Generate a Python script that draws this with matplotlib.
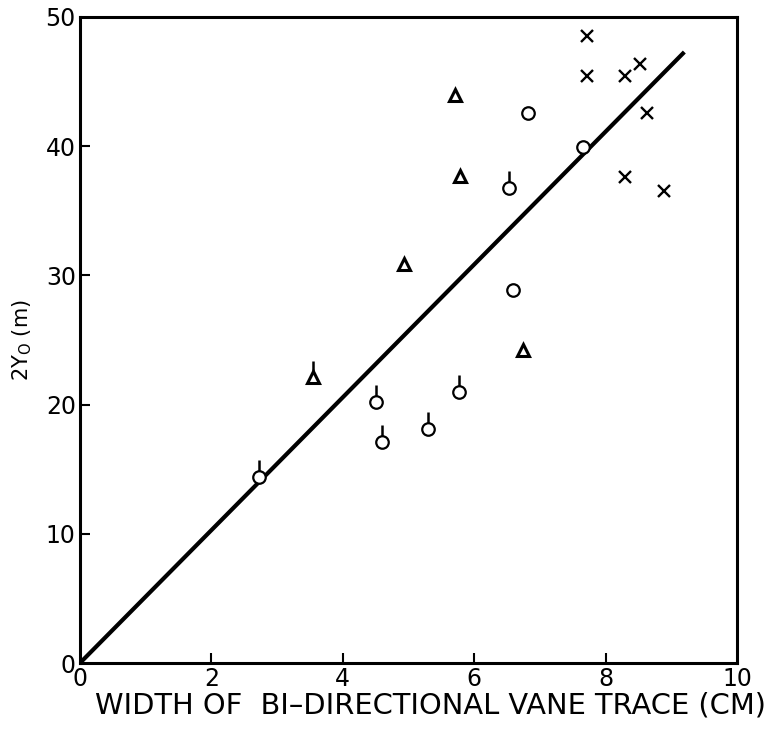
import numpy as np
import matplotlib.pyplot as plt
from matplotlib.path import Path

# data: width of vane trace (cm) vs 2Y0 (m)
circ_x = [6.82, 7.66, 6.59]
circ_y = [42.6, 39.9, 28.9]
circ_flag_x = [2.72, 4.51, 4.60, 5.30, 5.77, 6.53]
circ_flag_y = [14.4, 20.2, 17.1, 18.1, 21.0, 36.8]
tri_x = [4.93, 5.78, 5.71, 6.74]
tri_y = [30.9, 37.7, 44.0, 24.2]
tri_flag_x = [3.55]
tri_flag_y = [22.1]
cross_x = [7.72, 7.72, 8.30, 8.52, 8.63, 8.30, 8.89]
cross_y = [48.5, 45.4, 45.4, 46.4, 42.6, 37.6, 36.5]
fit_x = [0, 9.2]
fit_slope = 5.14

plt.figure(figsize=(7.66, 7.29), dpi=100)
ax = plt.axes([0.1044, 0.0905, 0.8576, 0.8862])

# fitted line
ax.plot(fit_x, [fit_slope * v for v in fit_x], color='black', lw=3, solid_capstyle='butt', zorder=2)

# short vertical stem drawn above a marker
r, L = 6.0, 11.0
stem = Path([[0, r / (r + L)], [0, 1.0]], [Path.MOVETO, Path.LINETO])
stem_ms = 2 * (r + L) * 0.72

mk = dict(color='black', mfc='white', mec='black', ls='none', zorder=3)
ax.plot(circ_x + circ_flag_x, circ_y + circ_flag_y, marker='o', ms=9, mew=1.6, **mk)
ax.plot(tri_x + tri_flag_x, tri_y + tri_flag_y, marker='^', ms=9, mew=2.2, **mk)
ax.plot(cross_x, cross_y, marker='x', ms=8.5, mew=1.7, **mk)
ax.plot(circ_flag_x, circ_flag_y, marker=stem, ms=stem_ms, mew=1.8, **mk)
ax.plot(tri_flag_x, tri_flag_y, marker=stem, ms=stem_ms * 0.95, mew=1.8, **mk)

ax.set_xlim(0, 10)
ax.set_ylim(0, 50)
ax.set_xticks([0, 2, 4, 6, 8, 10])
ax.set_yticks([0, 10, 20, 30, 40, 50])
ax.tick_params(direction='in', length=7, width=1.5, labelsize=17, pad=3)
for t in ax.xaxis.get_major_ticks()[::5] + ax.yaxis.get_major_ticks()[::5]:
    t.tick1line.set_visible(False)
for s in ax.spines.values():
    s.set_linewidth(2.2)

ax.set_xlabel('WIDTH OF  BI\u2013DIRECTIONAL VANE TRACE (CM)', fontsize=20.8, labelpad=0)
ax.xaxis.label.set_x(0.533)
ax.set_ylabel(r'2Y$_\mathregular{O}$ (m)', fontsize=15, labelpad=8)

plt.savefig('out.png', dpi=100)
